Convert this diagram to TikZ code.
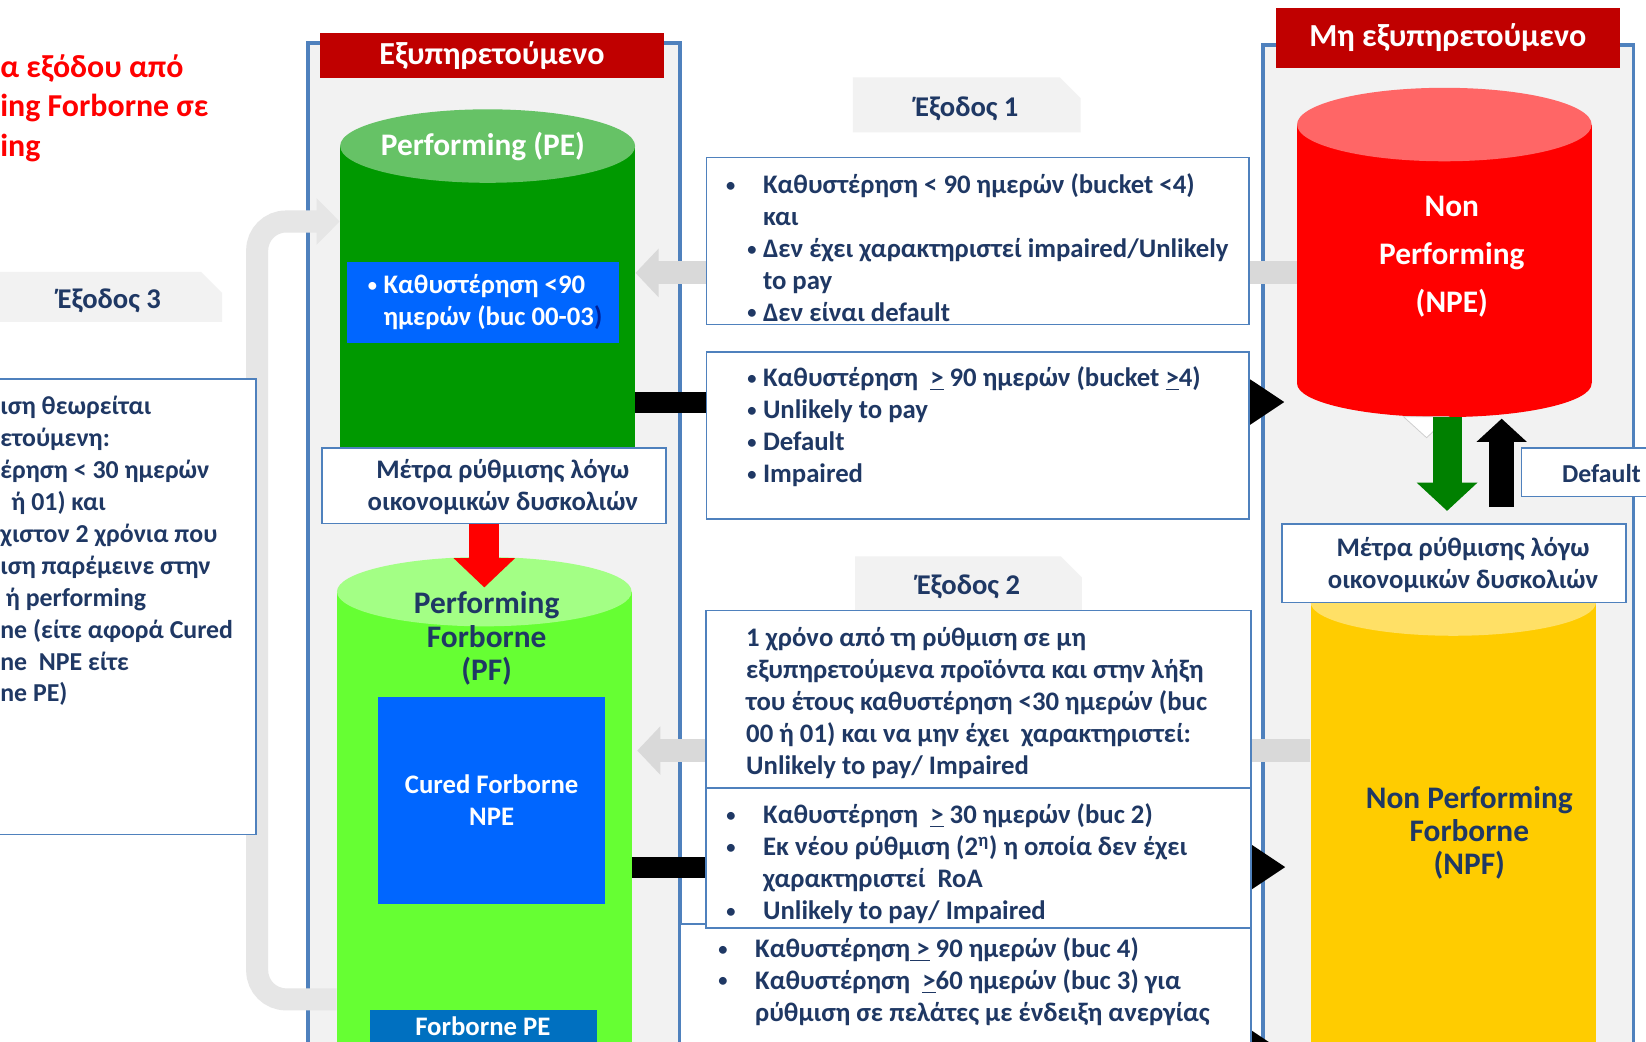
\documentclass[tikz,border=0pt]{standalone}
\usepackage{fontspec}
\setmainfont{Carlito}
\usepackage{tikz}
\usetikzlibrary{arrows.meta,shapes.misc,positioning}

\definecolor{framefill}{RGB}{242,242,242}
\definecolor{boxblue}{RGB}{79,129,189}
\definecolor{hdrred}{RGB}{192,0,0}
\definecolor{navy}{RGB}{31,56,100}
\definecolor{darkblue}{RGB}{0,32,150}
\definecolor{arrgray}{RGB}{217,217,217}
\definecolor{curvegray}{RGB}{230,230,230}
\definecolor{pegreen}{RGB}{0,153,0}
\definecolor{petop}{RGB}{102,194,102}
\definecolor{pfgreen}{RGB}{102,255,51}
\definecolor{pftop}{RGB}{163,255,133}
\definecolor{npered}{RGB}{255,0,0}
\definecolor{npetop}{RGB}{255,102,102}
\definecolor{npfyellow}{RGB}{255,204,0}
\definecolor{npftop}{RGB}{255,224,102}
\definecolor{bucblue}{RGB}{0,102,255}
\definecolor{fpeblue}{RGB}{0,112,192}
\definecolor{arrgreen}{RGB}{0,128,0}

\newcommand{\blt}[1]{\llap{\raisebox{1.3pt}{\fontsize{10}{12}\selectfont •}\hspace{#1}}}

\tikzset{frame/.style={rectangle, draw=boxblue, line width=0.7mm, fill=framefill, inner sep=0pt}}
\tikzset{header/.style={rectangle, fill=hdrred, text=white, inner sep=0pt,
    font=\bfseries\fontsize{17.4}{21}\selectfont}}
\tikzset{tab/.style={chamfered rectangle, chamfered rectangle corners=north east,
    chamfered rectangle xsep=2mm, chamfered rectangle ysep=2mm, fill=framefill, text=navy,
    inner sep=0pt, text height=1.22em, text depth=0pt, font=\bfseries\fontsize{15.5}{18}\selectfont}}
\tikzset{condbox/.style={rectangle, draw=boxblue, line width=0.32mm, fill=white, inner sep=0pt}}
\tikzset{fillbox/.style={rectangle, inner sep=0pt}}
\tikzset{boxtext/.style={text=navy, align=left, anchor=west, inner sep=0pt,
    font=\bfseries\fontsize{14.5}{17.3}\selectfont}}
\tikzset{meastext/.style={text=navy, align=center, inner sep=0pt,
    font=\bfseries\fontsize{14.5}{17.2}\selectfont}}
\tikzset{cylbody/.style={rectangle, inner sep=0pt}}
\tikzset{cyltext/.style={align=center, inner sep=0pt, font=\bfseries\fontsize{17}{18}\selectfont}}
\tikzset{titletext/.style={text=red, align=left, anchor=west, inner sep=0pt,
    font=\bfseries\fontsize{17.3}{21.3}\selectfont}}
\tikzset{grayarr/.style={draw=arrgray, line width=4.4mm, -{Triangle[width=9mm,length=4.4mm]}}}
\tikzset{curvearr/.style={draw=curvegray, line width=4.2mm, rounded corners=5.5mm,
    -{Triangle[width=8.6mm,length=4.4mm]}}}
\tikzset{blackarr/.style={draw=black, line width=4mm, -{Triangle[width=8.2mm,length=6.6mm]}}}
\tikzset{greenarr/.style={draw=arrgreen, line width=5.5mm, -{Triangle[width=11.3mm,length=5.4mm]}}}
\tikzset{uparr/.style={draw=black, line width=4.7mm, -{Triangle[width=9.3mm,length=4.4mm]}}}
\tikzset{redarr/.style={draw=red, line width=5.7mm, -{Triangle[width=11.4mm,length=5.6mm]}}}

\begin{document}
\begin{tikzpicture}[x=0.2mm, y=-0.2mm]
  \useasboundingbox (0,0) rectangle (1568,992);
  \clip (0,0) rectangle (1568,992);
  \fill[white] (0,0) rectangle (1568,992);

  %%%% rows of the connectors
  \coordinate (c1) at (0,211);
  \coordinate (c2) at (0,952);
  \coordinate (cx) at (245,0);
  \coordinate (g1) at (0,260);
  \coordinate (g2) at (0,715);
  \coordinate (b1) at (0,383);
  \coordinate (b2) at (0,826);
  \coordinate (b3) at (0,1003);
  \coordinate (gx) at (1378.5,0);
  \coordinate (ux) at (1430.5,0);

  %%%% Columns
  \node[frame](colPE) at (470.75,570.5) [minimum width=70.9mm, minimum height=211.8mm] {};
  \node[frame](colNPE) at (1379.5,571.5) [minimum width=70.6mm, minimum height=211.4mm] {};

  %%%% Performing
  \node[cylbody, fill=pegreen](PE) at (464.5,289.75) [minimum width=56.2mm, minimum height=60.1mm] {};
  \fill[petop] (PE.north) ellipse [x radius=28.1mm, y radius=7mm];
  \node[cyltext, text=white](PElbl) at (460,140) {Performing (PE)};
  \node[fillbox, fill=bucblue](bucPE) at (460.1,288.1) [minimum width=51.84mm, minimum height=15.44mm] {};
  \node[boxtext, text=white](bucPEtxt) at (365,288) {\blt{3.5pt}Καθυστέρηση <90\\ημερών (buc 00-03\textcolor{darkblue}{)}};

  %%%% Performing Forborne
  \node[cylbody, fill=pfgreen](PF) at (461.35,832) [minimum width=56.14mm, minimum height=107.2mm] {};
  \fill[pftop] (PF.north) ellipse [x radius=28.07mm, y radius=6.6mm];
  \node[cyltext, text=navy](PFlbl) at (463.6,608.2) {Performing\\Forborne\\(PF)};
  \node[fillbox, fill=bucblue, text=white, align=center, font=\bfseries\fontsize{14.5}{17.6}\selectfont](cured)
      at (468.35,762.35) [minimum width=43.18mm, minimum height=39.34mm] {Cured Forborne\\NPE};
  \node[fillbox, fill=fpeblue](fpe) at (460.45,1031) [minimum width=43.18mm, minimum height=27.6mm] {};
  \node[cyltext, text=white, text depth=0pt, font=\bfseries\fontsize{14.5}{17.6}\selectfont](fpetxt) at (460,986) [anchor=base] {Forborne PE};

  %%%% Non Performing
  \node[cylbody, fill=npered](NPE) at (1375.9,242) [minimum width=56.12mm, minimum height=49.2mm] {};
  \fill[npered] (NPE.south) ellipse [x radius=28.06mm, y radius=6.4mm];
  \fill[npetop] (NPE.north) ellipse [x radius=28.06mm, y radius=7mm];
  \node[cyltext, text=white, font=\bfseries\fontsize{17}{26.2}\selectfont](NPElbl) at (1383,244.5) {Non\\Performing\\(NPE)};

  %%%% Non Performing Forborne
  \node[cylbody, fill=npfyellow](NPF) at (1384.45,837) [minimum width=54.38mm, minimum height=105.2mm] {};
  \fill[npftop] (NPF.north) ellipse [x radius=27.19mm, y radius=6.4mm];
  \node[cyltext, text=navy](NPFlbl) at (1399.7,793.5) {Non Performing\\Forborne\\(NPF)};

  %%%% Exits
  \draw[curvearr] (PF.west |- c2) -- (cx |- c2) -- (cx |- c1) -- (PE.west |- c1);
  \draw[grayarr] (NPE.west |- g1) -- (PE.east |- g1);
  \draw[grayarr, shorten >=1mm] (NPF.west |- g2) -- (PF.east |- g2);
  \draw[blackarr, shorten >=2.3mm] (PE.east |- b1) -- (NPE.west |- b1);
  \draw[blackarr, shorten >=4.7mm] (PF.east |- b2) -- (NPF.west |- b2);
  \draw[blackarr, shorten >=4.7mm] (PF.east |- b3) -- (NPF.west |- b3);

  %%%% Tabs
  \node[tab](tab1) at (921,99.9) [minimum width=43.4mm, minimum height=10.5mm] {Έξοδος 1};
  \node[tab](tab2) at (922.5,555.5) [minimum width=43.2mm, minimum height=10.2mm] {Έξοδος 2};
  \node[tab](tab3) at (104,282.8) [minimum width=43mm, minimum height=9.5mm] {Έξοδος 3};

  %%%% Exit 1 boxes
  \node[condbox](cond1) at (931.25,229.5) [minimum width=103.3mm, minimum height=31.8mm] {};
  \node[boxtext](cond1txt) at (726.5,236) {\blt{15pt}Καθυστέρηση < 90 ημερών (bucket <4)\\και\\
      \blt{3.5pt}Δεν έχει χαρακτηριστεί impaired/Unlikely\\to pay\\\blt{3.5pt}Δεν είναι default};
  \node[condbox](cond2) at (931.25,415) [minimum width=103.3mm, minimum height=31.76mm] {};
  \node[boxtext](cond2txt) at (726.5,406.5) {\blt{3.5pt}Καθυστέρηση\ \ \underline{>} 90 ημερών (bucket \underline{>}4)\\
      \blt{3.5pt}Unlikely to pay\\\blt{3.5pt}Default\\\blt{3.5pt}Impaired};

  %%%% Exit 2 boxes
  \node[condbox](cond3) at (932,666.2) [minimum width=103.8mm, minimum height=33.8mm] {};
  \node[boxtext](cond3txt) at (710.5,670) {1 χρόνο από τη ρύθμιση σε μη\\εξυπηρετούμενα προϊόντα και στην λήξη\\
      του έτους καθυστέρηση <30 ημερών (buc\\00 ή 01) και να μην έχει\ \ χαρακτηριστεί:\\Unlikely to pay/ Impaired};
  \node[condbox](cond5) at (920,990) [minimum width=108.8mm, minimum height=44mm] {};
  \node[boxtext](cond5txt) at (719,935) {\blt{15pt}Καθυστέρηση\underline{\ >} 90 ημερών (buc 4)\\
      \blt{15pt}Καθυστέρηση\ \ \underline{>}60 ημερών (buc 3) για\\ρύθμιση σε πελάτες με ένδειξη ανεργίας};
  \node[condbox](cond4) at (932,817.2) [minimum width=103.8mm, minimum height=26.6mm] {};
  \node[boxtext](cond4txt) at (726.6,823) {\blt{15pt}Καθυστέρηση\ \ \underline{>} 30 ημερών (buc 2)\\
      \blt{15pt}Εκ νέου ρύθμιση (2\textsuperscript{η}) η οποία δεν έχει\\χαρακτηριστεί\ \ RoA\\
      \blt{15pt}Unlikely to pay/ Impaired};

  %%%% Exit 3 box
  \node[condbox](exit3) at (117,578) [minimum width=50.8mm, minimum height=86.8mm] {};
  \node[boxtext, font=\bfseries\fontsize{14}{17.3}\selectfont](exit3txt) at (0,525) {ιση θεωρείται\\ετούμενη:\\έρηση < 30 ημερών\\
      \hspace*{6pt}ή 01) και\\χιστον 2 χρόνια που\\ιση παρέμεινε στην\\\hspace*{3pt}ή performing\\
      ne (είτε αφορά Cured\\ne\ \ NPE είτε\\ne PE)};

  %%%% Forbearance measures
  \node[condbox](measPE) at (470.55,462.85) [minimum width=65.54mm, minimum height=14.34mm] {};
  \node[meastext](measPEtxt) at (479,464) {Μέτρα ρύθμισης λόγω\\οικονομικών δυσκολιών};
  \node[condbox](measNPF) at (1385,536.5) [minimum width=65.6mm, minimum height=15mm] {};
  \node[meastext](measNPFtxt) at (1393.7,538) {Μέτρα ρύθμισης λόγω\\οικονομικών δυσκολιών};
  \node[condbox](dflt) at (1534.75,450) [minimum width=34.1mm, minimum height=9.2mm] {};
  \node[boxtext, font=\bfseries\fontsize{14}{17}\selectfont](dflttxt) at (1487.7,451) {Default};

  %%%% Between NPE and NPF
  \draw[draw=black!20, fill=white] (1337,397) -- (1380,397) -- (1359,417) -- cycle;
  \draw[greenarr, shorten <=6.4mm, shorten >=2.3mm] (NPE.south -| gx) -- (measNPF.north -| gx);
  \draw[uparr, shorten <=3mm, shorten >=6.7mm] (measNPF.north -| ux) -- (NPE.south -| ux);
  \draw[redarr, shorten >=0.8mm] (measPE.south -| PF.north) -- (PF.north);

  %%%% Headers
  \node[header](hdrPE) at (468.75,52.75) [minimum width=65.5mm, minimum height=8.5mm] {Εξυπηρετούμενο};
  \node[header](hdrNPE) at (1379.25,36.25) [minimum width=65.5mm, minimum height=11.3mm] {Μη εξυπηρετούμενο};

  %%%% Title
  \node[titletext](title) at (0,103) {α εξόδου από\\ing Forborne σε\\ing};
\end{tikzpicture}
\end{document}
